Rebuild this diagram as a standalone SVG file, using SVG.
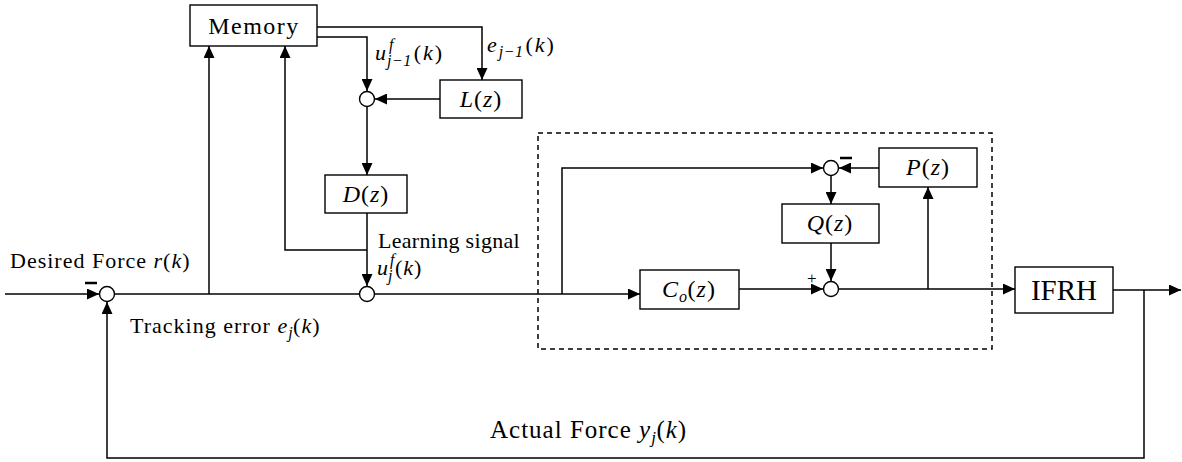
<svg xmlns="http://www.w3.org/2000/svg" width="1182" height="462" viewBox="0 0 1182 462">
<defs>
<marker id="ah" markerUnits="userSpaceOnUse" markerWidth="13" markerHeight="11" refX="12" refY="5.5" orient="auto">
<path d="M0,0 L12,5.5 L0,11 Z" fill="#000"/>
</marker>
<style>
.w{fill:none;stroke:#000;stroke-width:1.5}
.a{marker-end:url(#ah)}
.b{fill:#fff;stroke:#000;stroke-width:1.4}
.s{fill:#fff;stroke:#000;stroke-width:1.4}
.t{font-family:'Liberation Serif','DejaVu Serif',serif;font-size:22px;fill:#000}
.bl{font-size:24px}
.ls{letter-spacing:1px}
.c{text-anchor:middle}
.i{font-style:italic}
.sub{font-size:16px;font-style:italic;letter-spacing:0.5px}
.m{stroke:#000;stroke-width:2.5}
</style>
</defs>
<g id="connectors">
<path class="w a" d="M5,294 H99"/>
<path class="w" d="M114.5,294 H359.5"/>
<path class="w a" d="M209,294 V46"/>
<path class="w" d="M374.5,294 H562"/>
<path class="w a" d="M562,294 H640"/>
<path class="w a" d="M562,294 V168 H823"/>
<path class="w a" d="M879,168 H839"/>
<path class="w a" d="M831,175.5 V204"/>
<path class="w a" d="M831,243 V281"/>
<path class="w a" d="M739,289 H823"/>
<path class="w a" d="M838.5,289 H1015"/>
<path class="w a" d="M928,289 V187"/>
<path class="w a" d="M1113,290 H1181"/>
<path class="w a" d="M1144,290 V458 H107 V302"/>
<path class="w a" d="M317,27 H482 V80"/>
<path class="w a" d="M317,37 H367 V91"/>
<path class="w a" d="M440,99 H375"/>
<path class="w a" d="M367,106.5 V175"/>
<path class="w a" d="M367,213 V286"/>
<path class="w a" d="M367,250 H285 V46"/>
<rect x="538" y="133" width="454" height="216" fill="none" stroke="#000" stroke-width="1.5" stroke-dasharray="5,4"/>
</g>
<g id="memory"><rect class="b" x="190" y="5" width="127" height="41"/><text class="t bl c" x="254" y="34" style="letter-spacing:1.5px">Memory</text></g>
<g id="Lz"><rect class="b" x="440" y="80" width="82" height="38"/><text class="t bl c ls" x="481" y="107"><tspan class="i">L</tspan>(<tspan class="i">z</tspan>)</text></g>
<g id="Dz"><rect class="b" x="325" y="175" width="82" height="38"/><text class="t bl c ls" x="366" y="202"><tspan class="i">D</tspan>(<tspan class="i">z</tspan>)</text></g>
<g id="Qz"><rect class="b" x="782" y="204" width="97" height="39"/><text class="t bl c ls" x="830" y="231"><tspan class="i">Q</tspan>(<tspan class="i">z</tspan>)</text></g>
<g id="Pz"><rect class="b" x="879" y="148" width="98" height="39"/><text class="t bl c ls" x="928" y="175"><tspan class="i">P</tspan>(<tspan class="i">z</tspan>)</text></g>
<g id="Coz"><rect class="b" x="640" y="270" width="99" height="39"/><text class="t bl c ls" x="689" y="297"><tspan class="i">C</tspan><tspan class="sub" dy="5">o</tspan><tspan dy="-5">(</tspan><tspan class="i">z</tspan>)</text></g>
<g id="IFRH"><rect class="b" x="1015" y="267" width="98" height="46"/><text class="t c" x="1064" y="300" style="font-size:29px">IFRH</text></g>
<g id="sum1"><circle class="s" cx="107" cy="294" r="7.5"/><line class="m" x1="85" y1="283" x2="97" y2="283"/></g>
<g id="sum2"><circle class="s" cx="367" cy="294" r="7.5"/></g>
<g id="sum3"><circle class="s" cx="831" cy="168" r="7.5"/><line class="m" x1="840" y1="158" x2="852" y2="158"/></g>
<g id="sum4"><circle class="s" cx="831" cy="289" r="7.5"/><text class="t" x="807" y="284" style="font-size:17px">+</text></g>
<g id="sum5"><circle class="s" cx="367" cy="99" r="7.5"/></g>
<g id="labels">
<text class="t ls" x="10" y="268">Desired Force <tspan class="i">r</tspan>(<tspan class="i">k</tspan>)</text>
<text class="t ls" x="130" y="333">Tracking error <tspan class="i">e</tspan><tspan class="sub" dy="5">j</tspan><tspan dy="-5">(</tspan><tspan class="i">k</tspan>)</text>
<text class="t" x="378" y="248" style="letter-spacing:0.3px">Learning signal</text>
<text class="t ls" x="377" y="275"><tspan class="i">u</tspan><tspan class="sub" dx="1" dy="-10">f</tspan><tspan class="sub" dx="-7" dy="16">j</tspan><tspan dx="2" dy="-6">(</tspan><tspan class="i">k</tspan>)</text>
<text class="t" x="375" y="60" style="letter-spacing:2px"><tspan class="i">u</tspan><tspan class="sub" dx="1" dy="-10">f</tspan><tspan class="sub" dx="-7" dy="16">j−1</tspan><tspan dx="2" dy="-6">(</tspan><tspan class="i">k</tspan>)</text>
<text class="t" x="487" y="52" style="letter-spacing:2px"><tspan class="i">e</tspan><tspan class="sub" dy="5">j−1</tspan><tspan dx="2" dy="-5">(</tspan><tspan class="i">k</tspan>)</text>
<text class="t" x="490" y="438" style="font-size:25px;letter-spacing:1px">Actual Force <tspan class="i">y</tspan><tspan class="sub" dy="5" style="font-size:17px">j</tspan><tspan dy="-5">(</tspan><tspan class="i">k</tspan>)</text>
</g>
</svg>
